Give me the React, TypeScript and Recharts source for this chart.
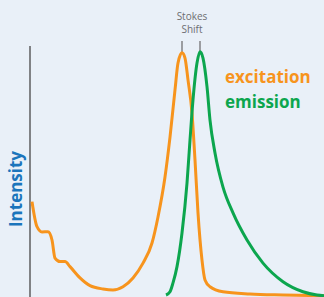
import { LineChart, Line, XAxis, YAxis, ReferenceLine } from "recharts";

// wavelength (arbitrary nm) / relative intensity pairs
const excitationX = [202, 207, 212, 218, 222, 225, 230, 235, 240, 250, 260, 273, 283, 293, 303, 313, 322, 328, 335, 340, 345, 348, 352, 355, 358, 362, 365, 368, 372, 375, 380, 393, 420, 453, 494];
const excitationY = [38.0, 28.0, 25.9, 26.0, 22.7, 15.5, 14.1, 14.1, 12.1, 7.6, 4.5, 3.2, 2.8, 4.1, 7.6, 13.5, 21.5, 31.9, 47.8, 63.7, 82.5, 93.2, 97.3, 95.2, 86.5, 73.3, 54.6, 33.5, 14.7, 6.8, 4.1, 2.1, 1.2, 0.8, 0.5];

const emissionX = [336, 340, 343, 347, 352, 357, 360, 363, 367, 370, 373, 377, 380, 385, 393, 403, 417, 433, 453, 473, 487, 494];
const emissionY = [0.8, 2.1, 5.6, 12.1, 25.5, 45.4, 62.5, 78.5, 93.2, 97.7, 95.2, 83.8, 70.5, 57.4, 43.8, 33.5, 22.7, 13.5, 6.1, 2.1, 0.8, 0.5];

const excitationPeak = 352;
const emissionPeak = 370;
const xMin = 200;

const excitation = excitationX.map((x, i) => ({ x, y: excitationY[i] }));
const emission = emissionX.map((x, i) => ({ x, y: emissionY[i] }));

const ORANGE = "#f7941d";
const GREEN = "#0ca64e";
const GRAY = "#808285";
const FONT = "'Open Sans', sans-serif";

export default function App() {
  return (
    <div
      style={{
        position: "absolute",
        left: 0,
        top: 0,
        width: 324,
        height: 297,
        background: "#e9f0f8",
        overflow: "hidden",
        fontFamily: FONT,
      }}
    >
      <LineChart
        width={324}
        height={297}
        margin={{ top: 46, right: 0, left: 30, bottom: 0 }}
      >
        <XAxis type="number" dataKey="x" domain={[xMin, 494]} hide />
        <YAxis type="number" dataKey="y" domain={[0, 100]} hide />
        {/* vertical intensity axis */}
        <ReferenceLine
          segment={[{ x: xMin, y: 0 }, { x: xMin, y: 100 }]}
          stroke={GRAY}
          strokeWidth={2}
          ifOverflow="visible"
        />
        <ReferenceLine
          segment={[{ x: excitationPeak, y: 97.5 }, { x: excitationPeak, y: 102 }]}
          stroke={GRAY}
          strokeWidth={1.5}
          ifOverflow="visible"
        />
        <ReferenceLine
          segment={[{ x: emissionPeak, y: 97.5 }, { x: emissionPeak, y: 102 }]}
          stroke={GRAY}
          strokeWidth={1.5}
          ifOverflow="visible"
        />
        <Line
          data={excitation}
          dataKey="y"
          type="monotone"
          stroke={ORANGE}
          strokeWidth={3}
          dot={false}
          isAnimationActive={false}
        />
        <Line
          data={emission}
          dataKey="y"
          type="monotone"
          stroke={GREEN}
          strokeWidth={3}
          dot={false}
          isAnimationActive={false}
        />
      </LineChart>

      <div
        style={{
          position: "absolute",
          left: 172,
          top: 10,
          width: 40,
          textAlign: "center",
          fontSize: 10,
          lineHeight: "13px",
          color: "#6d6e71",
        }}
      >
        Stokes
        <br />
        Shift
      </div>

      <div
        style={{
          position: "absolute",
          left: 225,
          top: 64,
          fontSize: 17,
          fontWeight: 700,
          lineHeight: "25px",
          color: ORANGE,
        }}
      >
        excitation
      </div>
      <div
        style={{
          position: "absolute",
          left: 225,
          top: 89,
          fontSize: 17,
          fontWeight: 700,
          lineHeight: "25px",
          color: GREEN,
        }}
      >
        emission
      </div>

      <div
        style={{
          position: "absolute",
          left: 15,
          top: 189,
          transform: "translate(-50%, -50%) rotate(-90deg)",
          fontSize: 17,
          fontWeight: 700,
          color: "#1b75bc",
          whiteSpace: "nowrap",
        }}
      >
        Intensity
      </div>
    </div>
  );
}
